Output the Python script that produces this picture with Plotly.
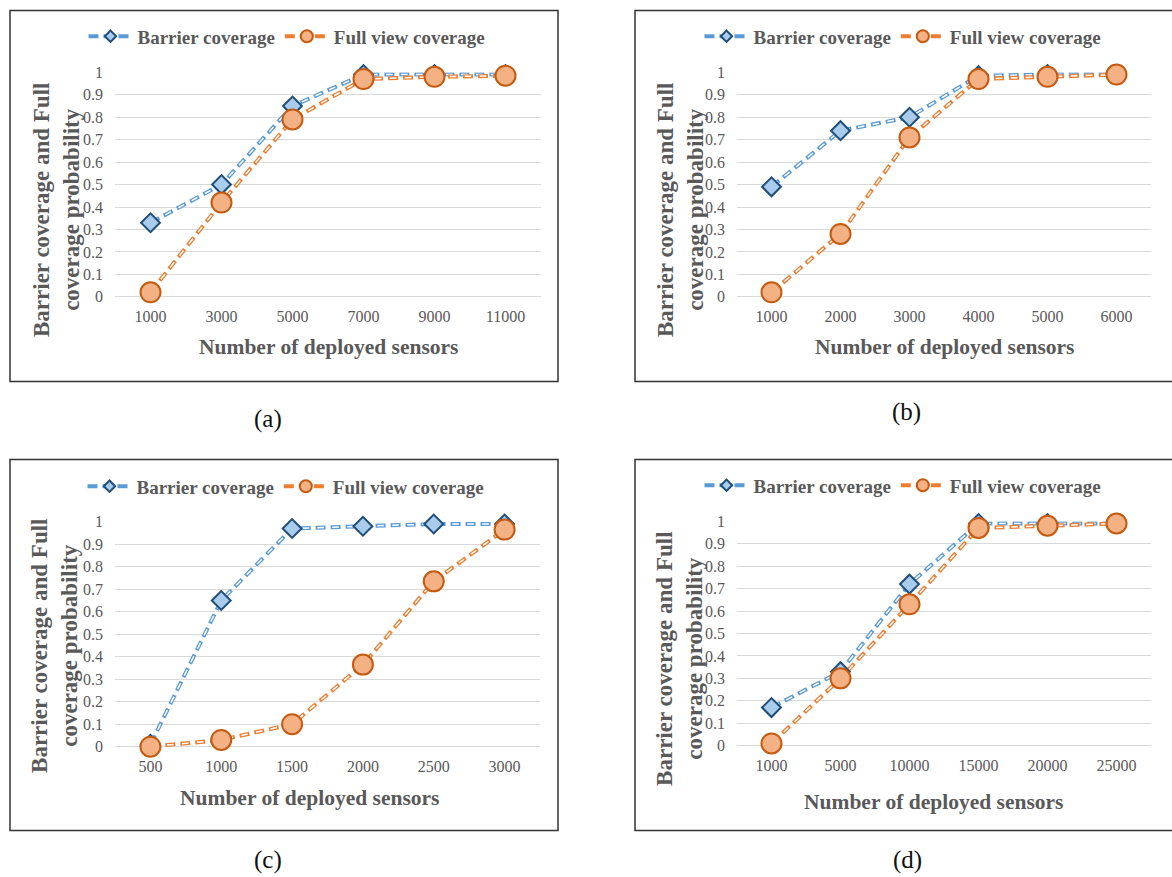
import plotly.graph_objects as go

W, H = 1172, 877
# measured mapping of page pixels to the photographed picture (vertical only)
Y_OFF, Y_SCALE = 7.5, 0.983

# ---------------- data ----------------
a_x = ["1000", "3000", "5000", "7000", "9000", "11000"]
a_barrier = [0.33, 0.50, 0.85, 0.99, 0.99, 0.99]
a_full = [0.02, 0.42, 0.79, 0.97, 0.98, 0.985]

b_x = ["1000", "2000", "3000", "4000", "5000", "6000"]
b_barrier = [0.49, 0.74, 0.80, 0.985, 0.99, 0.99]
b_full = [0.02, 0.28, 0.71, 0.97, 0.98, 0.99]

c_x = ["500", "1000", "1500", "2000", "2500", "3000"]
c_barrier = [0.01, 0.65, 0.97, 0.98, 0.99, 0.99]
c_full = [0.0, 0.03, 0.10, 0.365, 0.735, 0.965]

d_x = ["1000", "5000", "10000", "15000", "20000", "25000"]
d_barrier = [0.17, 0.33, 0.72, 0.99, 0.99, 0.99]
d_full = [0.01, 0.30, 0.63, 0.97, 0.98, 0.99]

y_ticks = [0, 0.1, 0.2, 0.3, 0.4, 0.5, 0.6, 0.7, 0.8, 0.9, 1]
y_tick_text = ["0", "0.1", "0.2", "0.3", "0.4", "0.5", "0.6", "0.7", "0.8", "0.9", "1"]

series_names = ["Barrier coverage", "Full view coverage"]
captions = ["(a)", "(b)", "(c)", "(d)"]
x_title = "Number of deployed sensors"
y_title = "Barrier coverage and Full<br>coverage probability"

# ---------------- style ----------------
FONT = "Liberation Serif, Times New Roman, serif"
GRAY = "#595959"
GRID = "#D9D9D9"
BLUE_LINE, BLUE_FILL, BLUE_EDGE = "#5B9BD5", "#A9CBEC", "#1F4E79"
OR_LINE, OR_FILL, OR_EDGE = "#ED7D31", "#F4B183", "#C55A11"
OUTER_DASH = "10px,5px"
INNER_DASH = "0px,1.7px,6.6px,6.7px"


def px_x(v):
    return v / W


def px_y(v):
    return 1 - ((v - Y_OFF) / Y_SCALE) / H


# panel layout in pixels: plot-area left, right, y(0), y(1); legend center; titles; border; caption
panels = [
    dict(x=a_x, bar=a_barrier, full=a_full, l=115, r=541, y0=297, y1=72,
         leg=(287, 36), xt=(328, 347), yt=(56, 210), box=(10, 10, 558, 382), cap=(268, 419)),
    dict(x=b_x, bar=b_barrier, full=b_full, l=737, r=1151, y0=297, y1=72,
         leg=(903, 36), xt=(944, 347), yt=(680, 210), box=(635, 10, 1185, 382), cap=(906, 412)),
    dict(x=c_x, bar=c_barrier, full=c_full, l=115, r=540, y0=748, y1=522.5,
         leg=(286, 487), xt=(309, 799), yt=(55, 647), box=(10, 460, 558, 832), cap=(268, 862)),
    dict(x=d_x, bar=d_barrier, full=d_full, l=737, r=1151, y0=747, y1=522,
         leg=(903, 486), xt=(933, 803), yt=(680, 660), box=(635, 460, 1185, 832), cap=(907, 862)),
]

fig = go.Figure()
layout = dict(
    width=W, height=H, margin=dict(l=0, r=0, t=0, b=0),
    paper_bgcolor="white", plot_bgcolor="white",
    showlegend=True, shapes=[], annotations=[],
)

for i, p in enumerate(panels):
    sfx = "" if i == 0 else str(i + 1)
    xa, ya = "x" + sfx, "y" + sfx
    leg = "legend" + sfx

    specs = [
        (series_names[0], p["bar"], BLUE_LINE, BLUE_FILL, BLUE_EDGE, "diamond", 14.5),
        (series_names[1], p["full"], OR_LINE, OR_FILL, OR_EDGE, "circle", 20),
    ]
    for name, vals, lc, fc, ec, sym, size in specs:
        # outer coloured dashed line (also carries the legend entry)
        fig.add_trace(go.Scatter(
            x=p["x"], y=vals, xaxis=xa, yaxis=ya, name=name, legend=leg,
            mode="lines+markers", cliponaxis=False,
            line=dict(color=lc, width=4, dash=OUTER_DASH),
            marker=dict(symbol=sym, size=size * 0.6, color=fc, line=dict(color=ec, width=2)),
            hoverinfo="skip",
        ))
        # inner white line for the double-line look
        fig.add_trace(go.Scatter(
            x=p["x"], y=vals, xaxis=xa, yaxis=ya, showlegend=False,
            mode="lines", cliponaxis=False,
            line=dict(color="white", width=1.5, dash=INNER_DASH),
            hoverinfo="skip",
        ))
    for name, vals, lc, fc, ec, sym, size in specs:
        fig.add_trace(go.Scatter(
            x=p["x"], y=vals, xaxis=xa, yaxis=ya, showlegend=False,
            mode="markers", cliponaxis=False,
            marker=dict(symbol=sym, size=size, color=fc, line=dict(color=ec, width=2)),
            hovertemplate=name + ": %{y}<extra></extra>",
        ))

    layout["xaxis" + sfx] = dict(
        domain=[px_x(p["l"]), px_x(p["r"])], anchor=ya, type="category",
        range=[-0.5, len(p["x"]) - 0.5], showgrid=False, zeroline=False,
        showline=False, ticks="", ticklabelstandoff=8,
        tickfont=dict(family=FONT, size=16, color=GRAY), fixedrange=True,
    )
    layout["yaxis" + sfx] = dict(
        domain=[px_y(p["y0"]), px_y(p["y1"])], anchor=xa, range=[0, 1],
        tickvals=y_ticks, ticktext=y_tick_text, showgrid=True, gridcolor=GRID,
        gridwidth=1, zeroline=True, zerolinecolor=GRID, zerolinewidth=1,
        showline=False, ticks="", ticklabelstandoff=11,
        tickfont=dict(family=FONT, size=16, color=GRAY), fixedrange=True,
    )
    layout[leg] = dict(
        orientation="h", x=px_x(p["leg"][0]), xanchor="center",
        y=px_y(p["leg"][1]), yanchor="middle", bgcolor="rgba(0,0,0,0)",
        font=dict(family=FONT, size=19, color=GRAY, weight="bold"),
        itemwidth=44, tracegroupgap=0,
    )
    # axis titles
    layout["annotations"].append(dict(
        text="<b>" + x_title + "</b>", xref="paper", yref="paper",
        x=px_x(p["xt"][0]), y=px_y(p["xt"][1]), xanchor="center", yanchor="middle",
        showarrow=False, font=dict(family=FONT, size=21.5, color=GRAY),
    ))
    layout["annotations"].append(dict(
        text="<b>" + y_title + "</b>", xref="paper", yref="paper", textangle=-90,
        x=px_x(p["yt"][0]), y=px_y(p["yt"][1]), xanchor="center", yanchor="middle",
        showarrow=False, font=dict(family=FONT, size=23, color=GRAY),
    ))
    # caption
    layout["annotations"].append(dict(
        text=captions[i], xref="paper", yref="paper",
        x=px_x(p["cap"][0]), y=px_y(p["cap"][1]), xanchor="center", yanchor="middle",
        showarrow=False, font=dict(family=FONT, size=25, color="#111111"),
    ))
    # panel border
    bx0, by0, bx1, by1 = p["box"]
    layout["shapes"].append(dict(
        type="rect", xref="paper", yref="paper",
        x0=px_x(bx0), x1=px_x(bx1), y0=px_y(by1), y1=px_y(by0),
        line=dict(color="#333333", width=1.5), fillcolor="rgba(0,0,0,0)", layer="below",
    ))

fig.update_layout(**layout)

# pin the figure to the top-left corner of the page (no body margin / scroll)
POST = (
    "document.body.style.margin='0';"
    "document.body.style.overflow='hidden';"
    "var gd=document.getElementById('{plot_id}');"
    "gd.style.position='absolute';gd.style.left='0px';gd.style.top='0px';"
)
fig.write_html("out.html", post_script=POST, config={"displayModeBar": False})
